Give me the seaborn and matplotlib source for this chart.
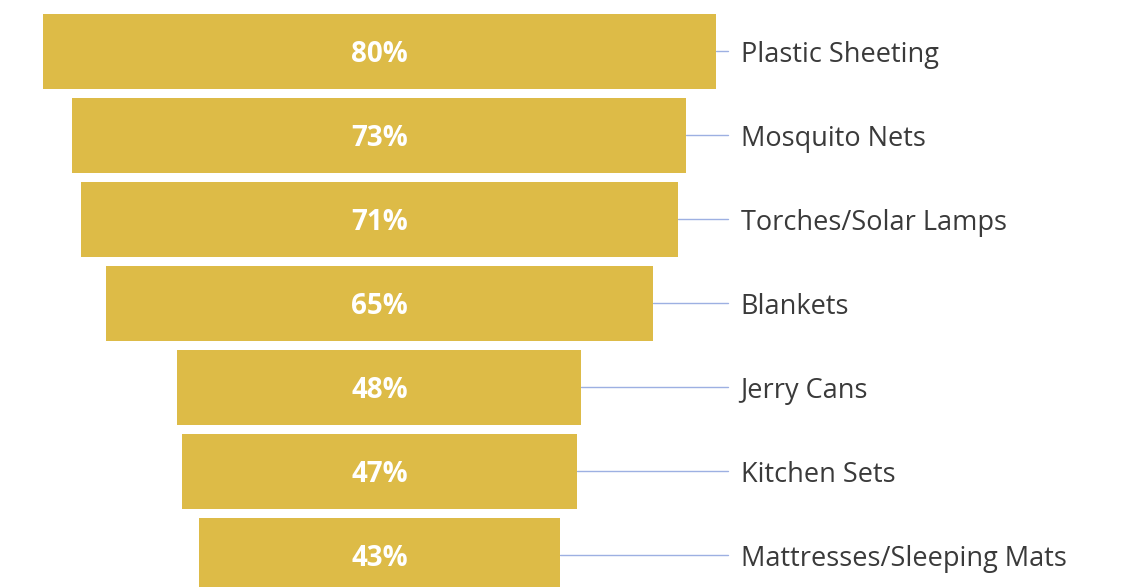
import seaborn as sns
import pandas as pd
from matplotlib import pyplot as plt

# funnel data, top to bottom
items = ["Plastic Sheeting", "Mosquito Nets", "Torches/Solar Lamps", "Blankets",
         "Jerry Cans", "Kitchen Sets", "Mattresses/Sleeping Mats"]
shares = [80, 73, 71, 65, 48, 47, 43]

bar_color = "#DDBB47"
line_color = "#9DB0E2"
text_color = "#3A3A3A"

sns.set_theme(style="white")
plt.rcParams["font.family"] = ["Open Sans", "DejaVu Sans"]

data = pd.DataFrame({"item": items, "share": shares})

fig = plt.figure(figsize=(11.28, 5.87), dpi=100)
ax = fig.add_axes([0, 0, 1, 1])

sns.barplot(data=data, x="share", y="item", orient="h", color=bar_color,
            saturation=1, width=0.893, ax=ax)

# center each bar on zero to get the funnel shape
label_x = 41.4
for patch, v, name in zip(ax.patches, shares, items):
    patch.set_x(-v / 2)
    patch.set_edgecolor("none")
    y = patch.get_y() + patch.get_height() / 2
    ax.text(0, y, f"{v}%", ha="center", va="center_baseline", color="white",
            fontsize=20, fontweight="bold")
    ax.plot([v / 2, label_x], [y, y], color=line_color, lw=1, zorder=0)
    ax.text(label_x + 1.55, y, name, ha="left", va="center_baseline",
            color=text_color, fontsize=19.5)

ax.set_xlim(-45.1, 89.0)
ax.set_ylim(6.375, -0.613)
ax.axis("off")

fig.savefig("out.png", dpi=100)
